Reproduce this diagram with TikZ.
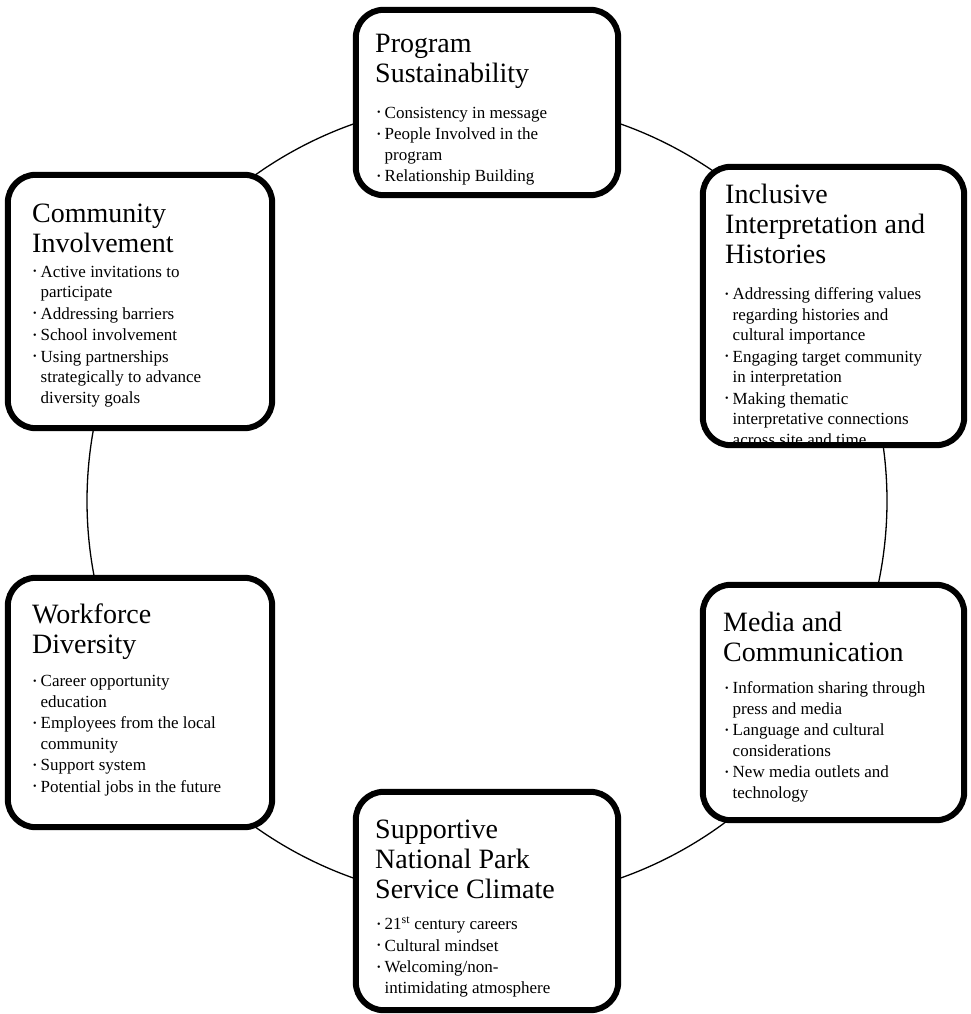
\documentclass[tikz,border=0pt]{standalone}
\usepackage{fontspec}
\setmainfont{Liberation Serif}
\usetikzlibrary{calc}
\newcommand\bul{\makebox[7.5pt][l]{\raisebox{0.3ex}{\fontsize{10}{10}\selectfont •}}}
\newcommand\ind{\hspace*{7.5pt}}
\tikzset{
  boxfill/.style={rectangle, rounded corners=28pt, fill=white, draw=none, inner sep=0pt},
  border/.style={line width=6pt, rounded corners=28pt},
  ring/.style={line width=1.3pt},
  ttl/.style={anchor=base west, align=left, inner sep=0pt, font=\fontsize{28}{30}\selectfont},
  bl/.style={anchor=base west, align=left, inner sep=0pt, font=\fontsize{17}{20.5}\selectfont},
}
\begin{document}
\begin{tikzpicture}[x=1pt,y=-1pt]
\useasboundingbox (0,0) rectangle (971,1014);
\fill[white] (0,0) rectangle (971,1014);
% ring connectors
\coordinate (c) at (487,501);
\coordinate (p1) at ($(c)+(-90:400)$);
\coordinate (p2) at ($(c)+(-30:400)$);
\coordinate (p5) at ($(c)+(30:400)$);
\coordinate (p6) at ($(c)+(90:400)$);
\coordinate (p4) at ($(c)+(150:400)$);
\coordinate (p3) at ($(c)+(210:400)$);
\draw[ring] (p1) arc[start angle=-90, end angle=-30, radius=400];
\draw[ring] (p2) arc[start angle=-30, end angle=30, radius=400];
\draw[ring] (p5) arc[start angle=30, end angle=90, radius=400];
\draw[ring] (p6) arc[start angle=90, end angle=150, radius=400];
\draw[ring] (p4) arc[start angle=150, end angle=210, radius=400];
\draw[ring] (p3) arc[start angle=210, end angle=270, radius=400];
% boxes
\node[boxfill, minimum width=262pt, minimum height=185pt] (b1) at (487,102.5) {};
\node[boxfill, minimum width=261pt, minimum height=278pt] (b2) at (833.5,306) {};
\node[boxfill, minimum width=264pt, minimum height=253pt] (b3) at (140,301.5) {};
\node[boxfill, minimum width=264pt, minimum height=249pt] (b4) at (140,702.5) {};
\node[boxfill, minimum width=261pt, minimum height=235pt] (b5) at (833.5,702.5) {};
\node[boxfill, minimum width=262pt, minimum height=218pt] (b6) at (487,901) {};
% texts (anchored at the baseline of their last line)
\node[ttl] (t1) at (375,83) {Program\\Sustainability};
\node[bl] (l1) at (377,181.5) {\bul Consistency in message\\[1pt]\bul People Involved in the\\\ind program\\[1pt]\bul Relationship Building};
\node[ttl] (t2) at (725,263) {Inclusive\\Interpretation and\\Histories};
\node[bl] (l2) at (725,445) {\bul Addressing differing values\\\ind regarding histories and\\\ind cultural importance\\[1pt]\bul Engaging target community\\\ind in interpretation\\[1pt]\bul Making thematic\\\ind interpretative connections\\\ind across site and time};
\node[ttl] (t3) at (32,252) {Community\\Involvement};
\node[bl] (l3) at (33,403) {\bul Active invitations to\\\ind participate\\[1pt]\bul Addressing barriers\\[1pt]\bul School involvement\\[1pt]\bul Using partnerships\\\ind strategically to advance\\\ind diversity goals};
\node[ttl] (t4) at (32,653) {Workforce\\Diversity};
\node[bl] (l4) at (33,792) {\bul Career opportunity\\\ind education\\[1pt]\bul Employees from the local\\\ind community\\[1pt]\bul Support system\\[1pt]\bul Potential jobs in the future};
\node[ttl] (t5) at (723,661) {Media and\\Communication};
\node[bl] (l5) at (725,798) {\bul Information sharing through\\\ind press and media\\[1pt]\bul Language and cultural\\\ind considerations\\[1pt]\bul New media outlets and\\\ind technology};
\node[ttl] (t6) at (375,898) {Supportive\\National Park\\Service Climate};
\node[bl] (l6) at (377,993) {\bul 21\textsuperscript{st} century careers\\[1pt]\bul Cultural mindset\\[1pt]\bul Welcoming/non-\\\ind intimidating atmosphere};
% borders
\draw[border] (b1.south west) rectangle (b1.north east);
\draw[border] (b2.south west) rectangle (b2.north east);
\draw[border] (b3.south west) rectangle (b3.north east);
\draw[border] (b4.south west) rectangle (b4.north east);
\draw[border] (b5.south west) rectangle (b5.north east);
\draw[border] (b6.south west) rectangle (b6.north east);
\end{tikzpicture}
\end{document}
